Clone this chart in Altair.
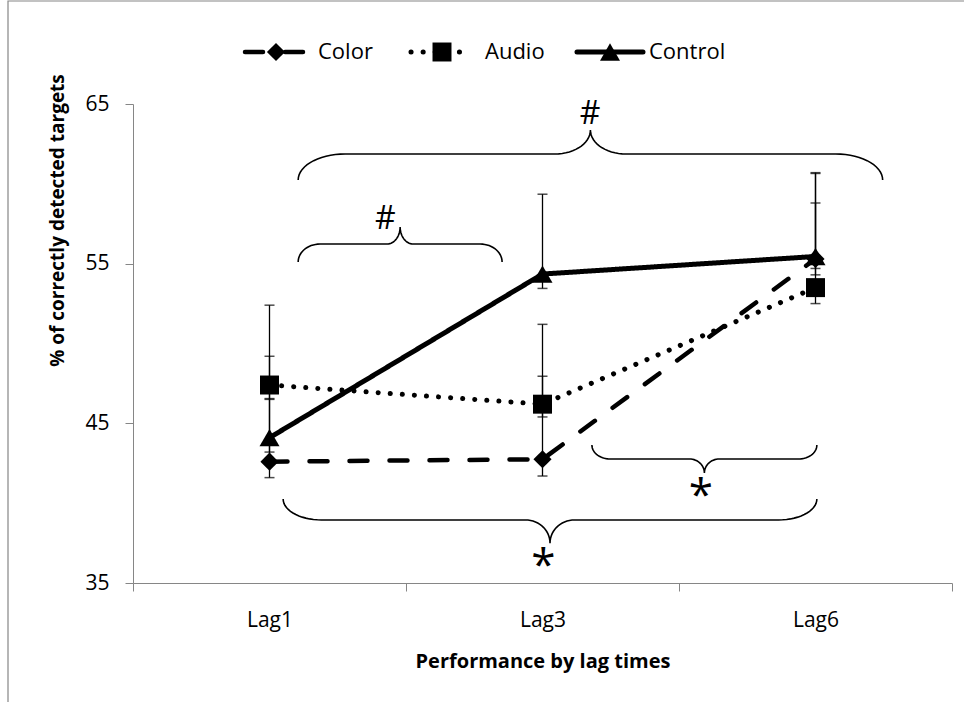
import altair as alt
import numpy as np
import pandas as pd

# ---- data -------------------------------------------------------------
lags = ["Lag1", "Lag3", "Lag6"]
series_names = ["Color", "Audio", "Control"]

color_pct = [42.6, 42.75, 55.3]
audio_pct = [47.4, 46.2, 53.5]
control_pct = [44.1, 54.35, 55.45]

color_err_up = [3.95, 5.2, 5.4]
audio_err_up = [5.0, 5.0, 5.3]
control_err_up = [5.1, 5.0, 5.2]

color_err_down = [1.0, 1.05, 1.0]
audio_err_down = [0.9, 0.8, 1.0]
control_err_down = [0.9, 0.9, 0.75]

y_ticks = [35, 45, 55, 65]

# significance braces: span (in lag positions), tip level, bar level, peak level
brace_start = [0.105, 0.105, 1.181, 0.05]
brace_end = [2.246, 0.852, 2.005, 2.005]
brace_tip = [60.24, 55.10, 43.64, 40.26]
brace_level = [61.87, 56.23, 42.77, 38.95]
brace_peak = [63.37, 57.30, 41.89, 37.5]
brace_label = ["#", "#", "*", "*"]
brace_label_x = [1.174, 0.424, 1.58, 1.003]
brace_label_y = [64.37, 57.8, 41.0, 36.63]

# ---- styling ----------------------------------------------------------
FONT = "Open Sans"
GREY = "#868686"
PLOT_W, PLOT_H = 819, 479
LEFT, TOP = 133, 104
CURL_END = [0.172, 0.08, 0.066, 0.14]   # horizontal reach of the end curls
CURL_MID = [0.13, 0.048, 0.055, 0.09]   # horizontal reach of the middle curls

styles = {
    "Color": dict(dash=[18, 22], width=4.5, shape="diamond", size=330),
    "Audio": dict(dash=[0.1, 12], width=5, shape="square", size=360),
    "Control": dict(dash=[1, 0], width=5, shape="triangle-up", size=400),
}

values = {"Color": color_pct, "Audio": audio_pct, "Control": control_pct}
ups = {"Color": color_err_up, "Audio": audio_err_up, "Control": control_err_up}
downs = {"Color": color_err_down, "Audio": audio_err_down, "Control": control_err_down}

rows = []
for s in series_names:
    for i, lag in enumerate(lags):
        v = values[s][i]
        rows.append(dict(series=s, lag=lag, pos=i, pct=v,
                         lo=v - downs[s][i], hi=v + ups[s][i]))
df = pd.DataFrame(rows)

# ---- shared scales / axes --------------------------------------------
label_expr = " : ".join(
    [f"datum.value == {i} ? '{l}'" for i, l in enumerate(lags)]) + " : ''"

x_axis = alt.Axis(
    values=[-0.5, 0, 0.5, 1, 1.5, 2, 2.5],
    labelExpr=label_expr,
    tickOpacity={"condition": {"test": "datum.value % 1 !== 0", "value": 1}, "value": 0},
    grid=False, domainColor=GREY, tickColor=GREY, tickSize=8,
    labelFont=FONT, labelFontSize=21, labelColor="black", labelPadding=18,
    title="Performance by lag times", titleFont=FONT, titleFontSize=20,
    titleFontWeight="bold", titleColor="black", titleY=78, titleBaseline="middle",
)
y_axis = alt.Axis(
    values=y_ticks, grid=False, domainColor=GREY, tickColor=GREY, tickSize=8,
    labelFont=FONT, labelFontSize=21, labelColor="black", labelPadding=16,
    title="% of correctly detected targets", titleFont=FONT, titleFontSize=19,
    titleFontWeight="bold", titleColor="black", titleX=-76, titleY=116,
    titleAlign="center", titleBaseline="middle",
)
x_scale = alt.Scale(domain=[-0.5, 2.5], nice=False, zero=False)
y_scale = alt.Scale(domain=[35, 65], nice=False, zero=False)


def X(field):
    return alt.X(field, type="quantitative", scale=x_scale, axis=x_axis)


def Y(field):
    return alt.Y(field, type="quantitative", scale=y_scale, axis=y_axis)


layers = []

# error bars
layers.append(
    alt.Chart(df).mark_rule(color="black", strokeWidth=1.3).encode(
        x=X("pos"), y=Y("lo"), y2="hi")
)
for end in ["lo", "hi"]:
    layers.append(
        alt.Chart(df).mark_tick(color="black", orient="horizontal",
                                size=10, thickness=1.5).encode(x=X("pos"), y=Y(end))
    )

# series lines and markers
for s in series_names:
    st = styles[s]
    sub = df[df.series == s]
    layers.append(
        alt.Chart(sub).mark_line(color="black", strokeWidth=st["width"],
                                 strokeDash=st["dash"], strokeCap="round").encode(
            x=X("pos"), y=Y("pct"))
    )
    layers.append(
        alt.Chart(sub).mark_point(filled=True, opacity=1, color="black",
                                  shape=st["shape"], size=st["size"]).encode(
            x=X("pos"), y=Y("pct"))
    )

# curly braces
brace_rows = []
t = np.linspace(0, np.pi / 2, 16)
for b in range(len(brace_start)):
    x0, x1 = brace_start[b], brace_end[b]
    xc = (x0 + x1) / 2
    yt, yh, yp = brace_tip[b], brace_level[b], brace_peak[b]
    rx, rc = CURL_END[b], CURL_MID[b]
    pts = []
    pts += list(zip(x0 + rx * (1 - np.cos(t)), yt + (yh - yt) * np.sin(t)))
    pts += list(zip(xc - rc + rc * np.sin(t), yh + (yp - yh) * (1 - np.cos(t))))
    pts += list(zip((xc + rc - rc * np.sin(t))[::-1], (yh + (yp - yh) * (1 - np.cos(t)))[::-1]))
    pts += list(zip((x1 - rx * (1 - np.cos(t)))[::-1], (yt + (yh - yt) * np.sin(t))[::-1]))
    for k, (px, py) in enumerate(pts):
        brace_rows.append(dict(brace=b, seq=k, bx=px, by=py))
braces = pd.DataFrame(brace_rows)
layers.append(
    alt.Chart(braces).mark_line(color="black", strokeWidth=1.6).encode(
        x=X("bx"), y=Y("by"), detail="brace:N", order="seq:Q")
)

marks_df = pd.DataFrame(dict(lx=brace_label_x, ly=brace_label_y, txt=brace_label))
layers.append(
    alt.Chart(marks_df[marks_df.txt == "#"]).mark_text(
        font=FONT, fontSize=32, color="black", baseline="middle").encode(
        x=X("lx"), y=Y("ly"), text="txt:N")
)
layers.append(
    alt.Chart(marks_df[marks_df.txt == "*"]).mark_text(
        font=FONT, fontSize=44, color="black", baseline="middle", dy=10).encode(
        x=X("lx"), y=Y("ly"), text="txt:N")
)

# legend drawn above the plot
one = pd.DataFrame({"k": [0]})
legend_y = 52 - TOP
legend_items = [
    ("Color", 245, 303, 276, 318),
    ("Audio", 411, 468, 442, 485),
    ("Control", 577, 643, 610, 649),
]
for name, a, b, c, tx in legend_items:
    st = styles[name]
    layers.append(
        alt.Chart(one).mark_rule(color="black", strokeWidth=st["width"],
                                 strokeDash=st["dash"], strokeCap="round").encode(
            x=alt.value(a - LEFT), x2=alt.value(b - LEFT), y=alt.value(legend_y))
    )
    layers.append(
        alt.Chart(one).mark_point(filled=True, opacity=1, color="black",
                                  shape=st["shape"], size=st["size"]).encode(
            x=alt.value(c - LEFT), y=alt.value(legend_y))
    )
    layers.append(
        alt.Chart(one).mark_text(font=FONT, fontSize=22, color="black",
                                 align="left", baseline="middle", text=name).encode(
            x=alt.value(tx - LEFT), y=alt.value(legend_y))
    )

# chart frame
layers.insert(0, alt.Chart(one).mark_rect(fillOpacity=0, stroke=GREY, strokeWidth=1.2).encode(
    x=alt.value(8 - LEFT), x2=alt.value(980 - LEFT),
    y=alt.value(1 - TOP), y2=alt.value(720 - TOP)))

chart = alt.layer(*layers).properties(
    width=PLOT_W, height=PLOT_H,
    autosize=alt.AutoSizeParams(type="none"),
    padding={"left": LEFT, "top": TOP, "right": 964 - LEFT - PLOT_W, "bottom": 702 - TOP - PLOT_H},
    background="white",
).configure_view(stroke=None)

chart.save("out.html", embed_options={"renderer": "svg", "actions": False})
